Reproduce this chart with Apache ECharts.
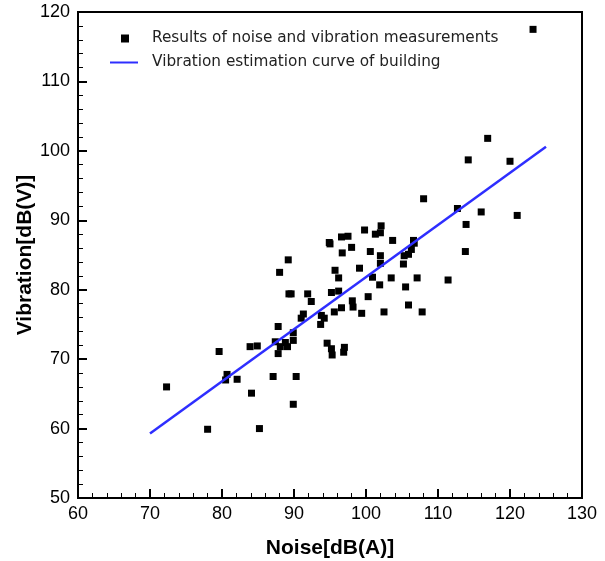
<!DOCTYPE html>
<html>
<head>
<meta charset="utf-8">
<script src="https://cdn.jsdelivr.net/npm/echarts@6/dist/echarts.min.js"></script>
<style>
  html, body { margin: 0; padding: 0; background: #fff; }
  #main { width: 605px; height: 561px; }
</style>
</head>
<body>
<div id="main"></div>
<script>
const noise = [
  72.3, 78.0, 79.6, 80.7, 80.5, 82.1, 84.1, 85.2, 83.9, 84.9,
  87.1, 87.8, 87.4, 88.1, 88.8, 89.1, 87.8, 89.9, 89.9, 90.3,
  89.9, 91.0, 91.3, 92.4, 93.7, 99.8, 102.1, 101.3, 102.0, 96.6,
  97.5, 94.9, 95.0, 98.0, 96.7, 100.6, 103.7, 106.6, 106.7, 106.3,
  105.9, 105.3, 105.2, 102.0, 102.0, 99.1, 95.7, 89.2, 88.0, 96.2,
  100.9, 103.5, 107.1, 101.9, 105.5, 89.3, 89.6, 91.9, 95.2, 96.2,
  98.1, 100.3, 105.9, 96.6, 98.2, 95.6, 99.4, 102.5, 93.8, 94.2,
  94.6, 95.2, 95.3, 97.0, 96.9, 108.0, 112.7, 113.9, 113.8, 111.4,
  107.8, 123.2, 116.9, 114.2, 120.0, 116.0, 121.0
]
const vibration = [
  66.0, 59.9, 71.1, 67.8, 67.0, 67.1, 65.1, 60.0, 71.8, 71.9,
  67.5, 74.7, 72.5, 71.8, 72.4, 71.8, 70.8, 73.8, 72.7, 67.5,
  63.5, 75.9, 76.5, 78.3, 75.0, 88.6, 89.2, 88.0, 88.2, 87.6,
  87.7, 86.8, 86.6, 86.1, 85.3, 85.5, 87.1, 87.1, 86.7, 85.8,
  85.1, 84.9, 83.7, 84.9, 83.8, 83.1, 82.8, 84.3, 82.5, 81.7,
  81.8, 81.7, 81.7, 80.7, 80.4, 79.4, 79.4, 79.4, 79.6, 79.8,
  78.4, 79.0, 77.8, 77.4, 77.5, 76.8, 76.6, 76.8, 76.3, 75.9,
  72.3, 71.5, 70.6, 71.7, 71.0, 93.1, 91.7, 89.4, 85.5, 81.4,
  76.8, 117.5, 101.8, 98.7, 98.5, 91.2, 90.7
]
const curveNoise = [70, 125]
const curveVibration = [59.3, 100.6]

const scatterName = 'Results of noise and vibration measurements'
const lineName = 'Vibration estimation curve of building'

const chart = echarts.init(document.getElementById('main'))

const labelFont = { color: '#000', fontSize: 18, fontFamily: 'Liberation Sans, Arial, sans-serif' }
const nameFont = { color: '#000', fontSize: 21, fontWeight: 'bold', fontFamily: 'Liberation Sans, Arial, sans-serif' }
const legendText = { color: '#222', fontSize: 15.3, fontFamily: 'DejaVu Sans, sans-serif' }

const option = {
  animation: false,
  backgroundColor: '#fff',
  grid: {
    left: 78, right: 23, top: 12, bottom: 63,
    outerBoundsMode: 'none', containLabel: false,
    show: true, borderColor: '#000', borderWidth: 2
  },
  legend: [
    {
      data: [{ name: scatterName, icon: 'rect' }],
      left: 116, top: 26, itemWidth: 8, itemHeight: 8, itemGap: 0,
      textStyle: Object.assign({ padding: [0, 0, 0, 18] }, legendText)
    },
    {
      data: [{ name: lineName, icon: 'path://M0,0 L28,0 L28,2 L0,2 Z' }],
      left: 105, top: 50, itemWidth: 28, itemHeight: 2, itemGap: 0,
      textStyle: Object.assign({ padding: [0, 0, 0, 9] }, legendText)
    }
  ],
  xAxis: {
    type: 'value', min: 60, max: 130, interval: 10,
    name: 'Noise[dB(A)]', nameLocation: 'middle', nameGap: 40,
    nameTextStyle: nameFont,
    axisLine: { show: true, lineStyle: { color: '#000', width: 2 } },
    axisTick: { show: true, inside: true, length: 9, lineStyle: { color: '#000', width: 2 } },
    minorTick: { show: true, splitNumber: 5, length: 5, lineStyle: { color: '#000', width: 1 } },
    splitLine: { show: false },
    axisLabel: Object.assign({ margin: 7 }, labelFont)
  },
  yAxis: {
    type: 'value', min: 50, max: 120, interval: 10,
    name: 'Vibration[dB(V)]', nameLocation: 'middle', nameGap: 42,
    nameMoveOverlap: false,
    nameTextStyle: nameFont,
    axisLine: { show: true, lineStyle: { color: '#000', width: 2 } },
    axisTick: { show: true, inside: true, length: 9, lineStyle: { color: '#000', width: 2 } },
    minorTick: { show: true, splitNumber: 5, length: 5, lineStyle: { color: '#000', width: 1 } },
    splitLine: { show: false },
    axisLabel: Object.assign({ margin: 8 }, labelFont)
  },
  series: [
    {
      name: scatterName,
      type: 'scatter',
      symbol: 'rect',
      symbolSize: 7,
      itemStyle: { color: '#000', opacity: 1 },
      data: noise.map((x, i) => [x, vibration[i]])
    },
    {
      name: lineName,
      type: 'line',
      showSymbol: false,
      lineStyle: { color: '#2e2eff', width: 2.5 },
      itemStyle: { color: '#2e2eff' },
      data: curveNoise.map((x, i) => [x, curveVibration[i]])
    }
  ]
}

chart.setOption(option)
</script>
</body>
</html>
